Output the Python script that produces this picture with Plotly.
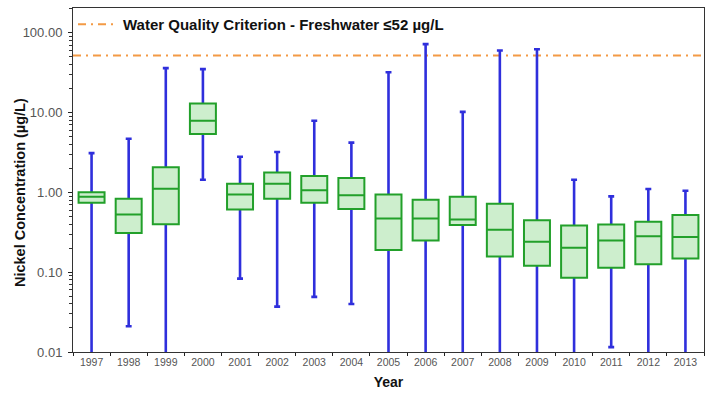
import plotly.graph_objects as go

# Annual nickel concentration summaries (µg/L)
years = [str(y) for y in range(1997, 2014)]
upper = [3.1, 4.7, 36, 35, 2.8, 3.2, 7.9, 4.2, 32, 72, 10.2, 60, 62, 1.44, 0.89, 1.10, 1.05]
q3 = [1.0, 0.83, 2.07, 13.0, 1.28, 1.77, 1.6, 1.51, 0.94, 0.81, 0.88, 0.72, 0.448, 0.385, 0.396, 0.43, 0.52]
median = [0.88, 0.53, 1.11, 7.9, 0.94, 1.28, 1.06, 0.92, 0.47, 0.47, 0.457, 0.34, 0.24, 0.203, 0.25, 0.283, 0.275]
q1 = [0.74, 0.31, 0.40, 5.4, 0.61, 0.83, 0.74, 0.62, 0.19, 0.25, 0.39, 0.157, 0.12, 0.085, 0.114, 0.126, 0.148]
lower = [0.004, 0.021, 0.004, 1.44, 0.083, 0.037, 0.049, 0.040, 0.004, 0.004, 0.004, 0.004, 0.004, 0.004, 0.0115, 0.004, 0.004]

CRITERION = 52
criterion_label = "<b>Water Quality Criterion - Freshwater ≤52 µg/L</b>"

y_tickvals = [0.01, 0.1, 1, 10, 100]
y_ticktext = ["0.01", "0.10", "1.00", "10.00", "100.00"]
# minor log ticks (2..9 within each decade)
y_minor = [m * d for d in (0.01, 0.1, 1, 10, 100) for m in range(2, 10)]

BLUE = "#2f2fdc"
GREEN = "#22a02a"
FILL = "#cdeecd"

fig = go.Figure()

# Whiskers: collapsed narrow box so only the blue whisker lines and caps show
fig.add_trace(go.Box(
    x=years, q1=median, median=median, q3=median,
    lowerfence=lower, upperfence=upper,
    width=0.16, whiskerwidth=1,
    line=dict(color=BLUE, width=2.6), fillcolor=BLUE,
    showlegend=False, hoverinfo="skip",
))

# Interquartile boxes with median line
fig.add_trace(go.Box(
    x=years, q1=q1, median=median, q3=q3,
    lowerfence=q1, upperfence=q3,
    width=0.7, whiskerwidth=0,
    line=dict(color=GREEN, width=2), fillcolor=FILL,
    showlegend=False,
))

fig.add_shape(
    type="line", xref="paper", x0=0, x1=1, yref="y", y0=CRITERION, y1=CRITERION,
    line=dict(color="#f39a45", width=2, dash="8px,5px,2px,5px"),
    layer="below", showlegend=True, name=criterion_label,
)

# y-axis title, placed as free text so it sits where the chart has it
fig.add_annotation(
    text="<b>Nickel Concentration (µg/L)</b>", textangle=-90,
    xref="paper", yref="paper", x=-0.084, y=0.465,
    xanchor="center", yanchor="middle", showarrow=False,
    font=dict(size=14.5, color="#111"),
)

fig.update_layout(
    width=713, height=394,
    margin=dict(l=73, r=9, t=7, b=41),
    paper_bgcolor="white", plot_bgcolor="white",
    boxmode="overlay",
    font=dict(family="Liberation Sans, Arial, sans-serif", color="#222"),
    showlegend=True,
    legend=dict(x=0.0, y=1.0, xanchor="left", yanchor="top", itemwidth=40,
                bgcolor="rgba(0,0,0,0)", font=dict(size=15, color="#111")),
    xaxis=dict(
        type="category", range=[-0.5, 16.5],
        showline=True, linecolor="#333", linewidth=1, mirror=True,
        ticks="outside", tickson="boundaries", ticklen=3, tickcolor="#222",
        tickfont=dict(size=10.5, color="#555"),
        showgrid=False,
        title=dict(text="<b>Year</b>", font=dict(size=14, color="#111"), standoff=10),
    ),
    yaxis=dict(
        type="log", range=[-2, 2.31],
        tickvals=y_tickvals, ticktext=y_ticktext,
        showline=True, linecolor="#333", linewidth=1, mirror=True,
        ticks="outside", ticklen=4, tickcolor="#222", ticklabelstandoff=3,
        tickfont=dict(size=13, color="#555"),
        minor=dict(tickmode="array", tickvals=y_minor, ticks="outside",
                   ticklen=3, tickwidth=1, tickcolor="#333", showgrid=False),
        showgrid=False, zeroline=False,
    ),
)

fig.write_html("out.html")
